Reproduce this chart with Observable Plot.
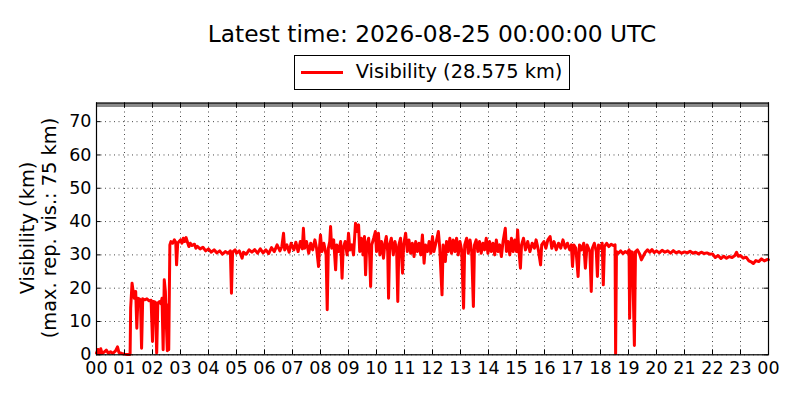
<!DOCTYPE html>
<html>
<head>
<meta charset="utf-8">
<script src="https://cdn.jsdelivr.net/npm/d3@7"></script>
<script src="https://cdn.jsdelivr.net/npm/@observablehq/plot@0.6"></script>
<style>
  html, body { margin: 0; padding: 0; background: #fff; }
  #wrap { position: relative; width: 800px; height: 400px; font-family: "DejaVu Sans", sans-serif; color: #000; }
  #title { position: absolute; left: 132px; width: 600px; top: 20px; text-align: center; font-size: 23.3px; line-height: 27px; white-space: nowrap; }
  #legend { position: absolute; left: 294px; top: 55px; width: 276px; height: 35px; box-sizing: border-box; border: 1px solid #000; background: #fff; }
  #legend .swatch { position: absolute; left: 6px; top: 14.5px; width: 42px; height: 3px; background: #ff0000; }
  #legend .label { position: absolute; left: 60.7px; top: 4.6px; font-size: 19.4px; line-height: 22px; white-space: nowrap; }
  #ylabel { position: absolute; left: -110.7px; top: 206px; width: 300px; height: 44px; transform: rotate(-90deg); text-align: center; font-size: 19.4px; line-height: 22px; white-space: nowrap; }
  #chart { position: absolute; left: 0; top: 0; }
</style>
</head>
<body>
<div id="wrap">
  <div id="chart"></div>
  <div id="title"></div>
  <div id="legend"><span class="swatch"></span><span class="label"></span></div>
  <div id="ylabel"></div>
</div>
<script>
const titleText = "Latest time: 2026-08-25 00:00:00 UTC";
const legendText = "Visibility (28.575 km)";
const yLabelLines = ["Visibility (km)", "(max. rep. vis.: 75 km)"];
const maxReportedVis = 75;
const hourTicks = [0,1,2,3,4,5,6,7,8,9,10,11,12,13,14,15,16,17,18,19,20,21,22,23,24];
const hourLabels = ["00","01","02","03","04","05","06","07","08","09","10","11","12","13","14","15","16","17","18","19","20","21","22","23","00"];
const kmTicks = [0,10,20,30,40,50,60,70];

// [hour of day, visibility km]
const visibility = [
  [0,0.5],[0.05,1.6],[0.1,0.3],[0.15,1.8],[0.2,0.4],[0.3,1.0],[0.35,1.4],[0.42,0.5],[0.5,0.9],[0.58,0.4],[0.68,1.2],[0.75,2.4],[0.8,0.7],[0.9,0.4],[1.0,0.2],[1.1,0.1],[1.2,0.1],
  [1.22,14],[1.27,21.5],[1.31,19],[1.35,17],[1.4,19],[1.44,8],[1.48,17],[1.52,16.8],[1.57,16.5],[1.61,2],[1.65,16.8],[1.72,16.5],[1.8,16.8],[1.88,16.2],[1.95,16.4],
  [2.0,4],[2.03,16],[2.1,15.8],[2.15,0.5],[2.19,15.5],[2.25,16],[2.3,15.3],[2.34,17],[2.38,1.5],[2.42,22.5],[2.46,19],[2.5,8],[2.53,1.2],[2.56,15],[2.58,1.5],
  [2.62,33],[2.66,34],[2.72,33.5],[2.78,34.5],[2.83,33.8],[2.86,27],[2.9,33.5],[2.95,34],
  [3.0,34.5],[3.05,33.5],[3.1,35],[3.15,34],[3.2,35.2],[3.25,33.8],[3.3,32.5],[3.35,33.5],[3.4,32.8],[3.5,33.2],[3.55,32],[3.6,32.6],[3.7,31.8],[3.8,32.3],[3.9,31.2],
  [4.0,31.8],[4.1,30.8],[4.2,31.5],[4.3,30.6],[4.4,31.2],[4.5,30.2],[4.6,31],[4.7,30.5],[4.78,31.2],[4.82,18.5],[4.86,30.8],[4.95,31.5],
  [5.0,30.5],[5.1,31.2],[5.2,29],[5.25,30.8],[5.35,30.2],[5.45,31.5],[5.55,30.8],[5.65,31.6],[5.75,30.5],[5.85,31.8],[5.95,30.6],
  [6.05,31.5],[6.15,30.4],[6.25,32.2],[6.35,31],[6.45,33],[6.55,31.2],[6.62,32.5],[6.68,36.5],[6.72,31.5],[6.8,33],[6.88,30.8],[6.95,33.5],
  [7.05,31.5],[7.12,33.8],[7.2,31],[7.28,34],[7.35,31.8],[7.39,38],[7.43,32],[7.5,34],[7.58,30.5],[7.65,33.5],[7.72,31.5],[7.8,34.5],[7.86,32],[7.93,26.5],[7.97,33],
  [8.0,36],[8.05,31],[8.12,33.5],[8.2,30],[8.24,13.5],[8.28,32],[8.33,34],[8.36,38.5],[8.4,32],[8.47,34.5],[8.54,25.5],[8.58,33],[8.65,31],[8.72,34],[8.77,23],[8.81,32],[8.88,34],[8.95,30],
  [9.0,36.5],[9.05,31.5],[9.12,33],[9.18,30],[9.25,39.5],[9.3,37],[9.36,39],[9.4,31],[9.46,35],[9.52,30],[9.57,35.5],[9.61,24],[9.65,33],[9.72,35],[9.76,29],[9.79,20.5],[9.83,33],[9.9,35],[9.96,37],
  [10.0,31],[10.07,36.5],[10.12,30],[10.18,34],[10.25,29],[10.3,33.5],[10.35,35.5],[10.4,31],[10.43,17],[10.47,33],[10.53,35],[10.6,30],[10.66,34],[10.72,31],[10.76,16],[10.8,33],[10.86,35],[10.93,24.5],[10.97,33],
  [11.04,36.5],[11.1,31],[11.16,34.5],[11.22,30.5],[11.28,33.5],[11.34,29.5],[11.4,34],[11.46,31],[11.52,33.5],[11.58,30],[11.64,36],[11.7,27.5],[11.75,33],[11.82,31],[11.88,34],[11.94,30.5],
  [12.0,35.5],[12.05,31],[12.12,33.5],[12.21,37],[12.26,32],[12.34,18],[12.38,33],[12.46,28],[12.5,34],[12.56,31],[12.62,35],[12.68,30.5],[12.74,34.5],[12.8,31],[12.86,35],[12.92,30],[12.98,34],
  [13.04,31.5],[13.11,14],[13.15,33],[13.22,35],[13.28,30.5],[13.34,34.5],[13.4,31],[13.46,14.5],[13.5,33],[13.56,34.5],[13.62,31],[13.68,34],[13.74,30.5],[13.8,33.5],[13.86,31.5],[13.92,35],[13.98,30.5],
  [14.04,34],[14.1,31],[14.16,33.5],[14.22,30],[14.28,34.5],[14.34,31],[14.4,33],[14.46,29.5],[14.52,34],[14.6,38],[14.64,31],[14.7,34],[14.76,30],[14.82,35],[14.88,31],[14.94,34.5],
  [15.0,31],[15.04,37.5],[15.08,32],[15.14,26],[15.18,33],[15.25,35],[15.32,31.5],[15.4,34],[15.48,31],[15.56,33.5],[15.64,32],[15.7,34.5],[15.78,31.5],[15.86,27],[15.9,33],[15.98,34],
  [16.05,32],[16.12,34.5],[16.2,35.5],[16.26,32],[16.34,34],[16.42,31.5],[16.5,33.5],[16.58,32],[16.66,34.5],[16.74,32],[16.82,33.5],[16.9,31.5],[16.96,33],
  [17.0,26.5],[17.05,33],[17.12,32],[17.2,23.5],[17.25,33],[17.32,31.5],[17.4,33.5],[17.46,26],[17.52,33],[17.62,31],[17.67,19],[17.71,32],[17.78,33.5],[17.85,31],[17.89,23.5],[17.93,33],
  [18.0,32],[18.06,33.5],[18.1,21],[18.14,32.5],[18.22,33.5],[18.3,32.5],[18.38,33.2],[18.46,32.8],[18.52,33],[18.54,0.3],[18.57,31],[18.64,30.5],[18.72,31.2],[18.8,30.4],[18.88,31],[18.96,30.6],
  [19.02,31.5],[19.04,11],[19.08,31],[19.14,30.8],[19.21,2.8],[19.25,31],[19.32,31.5],[19.4,30.2],[19.46,28.5],[19.52,29.5],[19.6,30.8],[19.68,31.5],[19.76,30.8],[19.84,31.6],[19.92,30.7],
  [20.0,31.2],[20.1,30.6],[20.2,31.4],[20.3,30.8],[20.4,31.2],[20.5,30.5],[20.6,31.3],[20.7,30.6],[20.8,31],[20.9,30.5],
  [21.0,30.9],[21.1,30.6],[21.2,31.1],[21.3,30.5],[21.4,30.8],[21.5,30.3],[21.6,30.8],[21.7,30.4],[21.8,30.6],[21.9,30.2],
  [22.0,30.3],[22.1,29.2],[22.2,29.8],[22.3,28.9],[22.4,29.6],[22.5,29],[22.6,29.5],[22.7,29.2],[22.8,29.8],[22.86,30.8],[22.92,29.6],
  [23.0,29.8],[23.1,29],[23.2,29.3],[23.3,28.2],[23.4,27.8],[23.46,27.4],[23.55,28.3],[23.65,28],[23.75,28.8],[23.85,28.2],[23.95,28.6],[24.0,28.575]
];

document.getElementById("title").textContent = titleText;
document.querySelector("#legend .label").textContent = legendText;
document.getElementById("ylabel").innerHTML = yLabelLines.map(s => `<div>${s}</div>`).join("");

const yTop = 75.6;
const gridStyle = {stroke: "#000", strokeOpacity: 0.9, strokeWidth: 0.8, strokeDasharray: "1,3.5"};

const chart = Plot.plot({
  width: 800,
  height: 400,
  marginTop: 102.5,
  marginBottom: 45.7,
  marginLeft: 96,
  marginRight: 32,
  style: {fontFamily: "DejaVu Sans", fontSize: "17.5px", background: "transparent", color: "#000", overflow: "visible"},
  x: {domain: [0, 24]},
  y: {domain: [0, yTop]},
  marks: [
    Plot.gridX(hourTicks, gridStyle),
    Plot.gridY(kmTicks, gridStyle),
    Plot.ruleY([maxReportedVis], {stroke: "#8a8a8a", strokeWidth: 4}),
    Plot.line(visibility, {x: d => d[0], y: d => d[1], stroke: "#ff0000", strokeWidth: 3, strokeLinejoin: "round"}),
    Plot.ruleX(hourTicks, {y1: 0, y2: 1.5, stroke: "#000", strokeWidth: 1}),
    Plot.ruleX(hourTicks, {y1: yTop - 1.5, y2: yTop, stroke: "#000", strokeWidth: 1}),
    Plot.ruleY(kmTicks, {x1: 0, x2: 0.16, stroke: "#000", strokeWidth: 1}),
    Plot.ruleY(kmTicks, {x1: 24 - 0.16, x2: 24, stroke: "#000", strokeWidth: 1}),
    Plot.axisX(hourTicks, {tickSize: 0, tickPadding: 7, tickFormat: d => hourLabels[d], fontSize: "17.5px"}),
    Plot.axisY(kmTicks, {tickSize: 0, tickPadding: 5, fontSize: "17.5px"}),
    Plot.frame({stroke: "#000", strokeWidth: 1.2})
  ]
});
document.getElementById("chart").appendChild(chart);
</script>
</body>
</html>
